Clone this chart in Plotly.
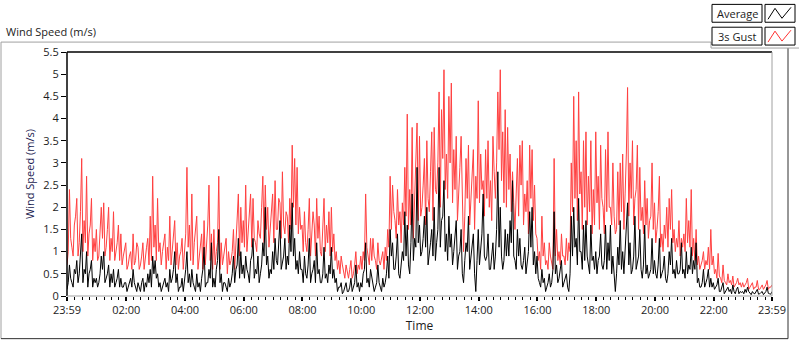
import plotly.graph_objects as go
import pandas as pd

# ---------------- data ----------------
# values on each 5-minute mark (23:59 ... 23:59)
gust_5min = [
    0.7, 2.4, 1.1, 1.6, 2.2, 1.2, 3.1, 1.7, 2.7, 1.4, 2.2, 1.3,
    1.5, 0.9, 2.0, 2.1, 1.1, 2.0, 1.3, 1.9, 1.0, 1.6, 1.4, 0.9,
    1.2, 0.7, 1.0, 1.4, 0.8, 1.1, 0.7, 1.2, 0.9, 1.3, 1.8, 2.7,
    1.6, 2.2, 1.2, 1.0, 1.4, 1.1, 1.8, 1.0, 1.7, 1.2, 0.9, 1.3,
    1.0, 2.9, 1.6, 2.3, 1.2, 1.8, 0.9, 1.4, 1.7, 1.1, 2.5, 1.4,
    1.5, 1.0, 2.7, 1.2, 0.9, 1.3, 1.0, 0.8, 1.5, 1.1, 2.3, 2.0,
    1.7, 2.5, 1.4, 2.3, 2.2, 1.2, 1.7, 1.3, 2.7, 2.5, 2.0, 1.5,
    2.3, 2.6, 1.5, 2.1, 2.8, 1.4, 1.8, 2.2, 3.4, 3.1, 2.9, 2.0,
    1.6, 1.9, 1.0, 2.2, 1.3, 1.6, 2.2, 1.8, 0.9, 2.2, 1.6, 1.9,
    2.0, 1.4, 1.0, 0.8, 0.9, 0.5, 0.7, 0.4, 0.8, 0.5, 1.0, 0.7,
    0.9, 1.0, 2.3, 0.9, 1.3, 1.3, 0.8, 1.2, 0.7, 1.0, 1.1, 1.5,
    2.7, 2.5, 1.7, 2.4, 1.9, 2.1, 2.9, 4.1, 2.4, 3.8, 2.2, 3.9,
    3.6, 2.0, 3.1, 3.5, 1.9, 3.7, 3.8, 2.3, 4.6, 4.2, 5.1, 3.2,
    4.5, 4.8, 3.3, 3.6, 2.2, 3.6, 1.0, 3.1, 3.4, 2.1, 3.3, 2.7,
    4.4, 3.2, 2.6, 3.3, 3.5, 2.6, 3.6, 2.2, 4.6, 5.1, 3.7, 4.2,
    3.8, 3.2, 2.8, 1.5, 3.1, 3.4, 3.5, 2.3, 2.6, 3.4, 3.3, 2.5,
    1.3, 1.0, 1.8, 1.2, 0.8, 1.2, 0.7, 3.1, 1.5, 1.0, 1.4, 0.9,
    1.3, 1.2, 3.0, 4.5, 3.5, 4.6, 2.8, 3.5, 3.7, 2.7, 3.5, 2.4,
    3.7, 2.7, 3.4, 2.0, 3.3, 3.7, 2.0, 3.0, 1.4, 2.8, 3.0, 3.2,
    2.3, 4.7, 3.0, 3.5, 2.2, 3.4, 2.9, 2.0, 2.6, 2.2, 1.7, 3.0,
    2.1, 1.5, 2.7, 1.4, 1.6, 2.0, 2.2, 2.4, 1.5, 1.3, 1.7, 1.3,
    1.4, 2.2, 1.7, 2.4, 1.3, 1.5, 0.9, 0.7, 1.0, 0.8, 1.1, 1.5,
    0.9, 0.6, 0.96, 0.4, 0.7, 0.3, 0.5, 0.35, 0.45, 0.25, 0.4, 0.3,
    0.3, 0.25, 0.4, 0.2, 0.3, 0.2, 0.35, 0.15, 0.25, 0.2, 0.35, 0.2,
    0.25,
]
# values half-way between the 5-minute marks
gust_mid = [
    1.0, 1.3, 0.9, 1.8, 0.9, 1.9, 1.0, 1.2, 0.9, 1.6, 0.8, 1.0,
    0.8, 1.4, 1.3, 0.9, 1.5, 0.8, 1.0, 0.8, 1.2, 0.8, 0.7, 1.1,
    0.6, 0.9, 0.6, 0.7, 1.2, 0.6, 0.9, 0.6, 1.1, 0.7, 0.8, 1.1,
    0.8, 1.0, 0.7, 1.2, 0.6, 0.8, 0.7, 1.3, 0.7, 0.6, 1.0, 0.6,
    1.4, 1.1, 0.8, 0.7, 1.5, 0.6, 1.1, 0.6, 0.7, 1.6, 0.8, 0.6,
    0.7, 1.2, 0.6, 0.7, 1.1, 0.5, 0.7, 1.0, 0.6, 1.7, 0.9, 1.2,
    1.1, 1.0, 1.9, 1.1, 1.3, 1.0, 1.4, 2.0, 1.2, 1.5, 1.1, 1.9,
    1.2, 1.5, 2.2, 1.3, 1.6, 1.9, 1.2, 1.5, 2.0, 1.6, 1.4, 1.5,
    1.0, 1.2, 1.5, 0.9, 1.9, 0.9, 1.3, 1.0, 1.4, 1.0, 1.2, 0.9,
    1.0, 0.8, 0.6, 0.5, 0.7, 0.4, 0.5, 0.6, 0.4, 0.7, 0.5, 0.6,
    0.6, 0.8, 1.1, 0.7, 0.8, 0.9, 0.6, 0.8, 0.9, 0.6, 0.8, 1.1,
    1.5, 1.9, 1.3, 1.6, 1.2, 1.6, 1.8, 1.5, 1.6, 1.3, 2.6, 1.7,
    1.8, 2.5, 1.6, 2.2, 2.8, 1.7, 2.4, 3.0, 2.0, 3.1, 2.4, 2.2,
    3.0, 2.1, 2.4, 1.7, 2.9, 2.0, 1.8, 2.2, 1.6, 2.6, 1.5, 2.2,
    2.1, 2.4, 1.8, 2.2, 2.0, 1.7, 2.8, 3.0, 3.3, 2.6, 2.1, 2.0,
    2.4, 1.9, 2.1, 2.3, 1.8, 2.5, 1.6, 1.9, 1.4, 2.2, 1.7, 1.4,
    0.8, 0.6, 0.9, 0.7, 0.6, 0.9, 0.6, 0.9, 0.8, 0.7, 0.9, 0.7,
    0.8, 1.0, 1.9, 2.2, 1.7, 2.3, 1.5, 2.0, 1.6, 1.9, 1.4, 1.6,
    2.1, 1.5, 2.2, 1.4, 1.9, 2.0, 1.6, 1.8, 1.5, 1.6, 1.9, 1.5,
    3.2, 1.8, 2.2, 1.6, 2.4, 1.5, 1.7, 1.4, 1.6, 1.3, 1.8, 1.5,
    1.2, 1.9, 1.1, 1.0, 1.3, 1.1, 1.5, 1.2, 1.0, 1.1, 0.9, 1.1,
    1.0, 1.2, 1.1, 0.9, 0.8, 0.7, 0.6, 0.8, 0.6, 0.7, 0.6, 0.7,
    0.5, 0.4, 0.45, 0.3, 0.35, 0.25, 0.3, 0.25, 0.2, 0.3, 0.25, 0.2,
    0.2, 0.3, 0.15, 0.25, 0.15, 0.2, 0.15, 0.2, 0.15, 0.25, 0.15, 0.2,
]

average_5min = [
    0.15, 0.7, 0.3, 0.6, 0.8, 0.5, 1.4, 0.6, 1.0, 0.5, 0.8, 0.4,
    0.4, 0.3, 0.9, 1.0, 0.4, 0.7, 0.5, 0.6, 0.3, 0.6, 0.4, 0.2,
    0.3, 0.2, 0.4, 0.6, 0.2, 0.3, 0.1, 0.4, 0.3, 0.5, 0.6, 0.9,
    0.8, 0.5, 0.3, 0.2, 0.4, 0.3, 0.6, 0.4, 1.0, 0.5, 0.2, 0.4,
    0.3, 1.0, 0.5, 0.6, 0.2, 0.5, 0.3, 0.4, 1.1, 0.3, 0.6, 1.2,
    0.4, 0.6, 1.5, 0.5, 0.3, 0.2, 0.4, 0.3, 0.9, 0.6, 1.3, 1.0,
    0.7, 0.9, 0.5, 0.8, 1.3, 0.6, 0.9, 0.5, 1.2, 2.0, 0.9, 0.6,
    1.0, 1.3, 0.7, 1.7, 0.8, 1.3, 0.9, 1.6, 2.1, 1.3, 0.8, 1.0,
    0.6, 0.9, 0.4, 1.3, 0.5, 0.8, 1.2, 0.6, 0.3, 1.1, 0.5, 0.7,
    1.1, 0.6, 0.4, 0.2, 0.3, 0.1, 0.3, 0.1, 0.4, 0.2, 0.7, 0.3,
    0.3, 0.5, 1.2, 0.4, 0.6, 0.3, 0.2, 0.7, 0.2, 0.4, 0.3, 0.9,
    1.5, 1.2, 0.6, 1.4, 0.4, 1.0, 1.9, 1.6, 0.5, 2.3, 1.3, 2.9,
    1.6, 1.0, 1.8, 2.0, 0.9, 1.5, 2.0, 1.2, 2.9, 1.7, 2.6, 1.4,
    1.8, 1.4, 1.0, 1.7, 0.9, 1.5, 0.3, 1.2, 1.8, 0.9, 1.4, 0.1,
    1.5, 1.0, 2.3, 0.8, 1.4, 0.6, 1.2, 0.9, 2.8, 2.0, 0.6, 1.5,
    1.4, 1.7, 2.6, 0.8, 1.5, 1.3, 0.6, 1.1, 0.7, 1.9, 2.0, 1.0,
    0.9, 0.3, 0.6, 0.4, 0.2, 0.5, 0.3, 1.9, 0.7, 0.4, 0.8, 0.3,
    0.5, 0.1, 1.8, 2.0, 1.3, 2.2, 1.0, 1.6, 1.7, 0.7, 1.6, 0.9,
    1.0, 0.8, 1.4, 0.6, 1.6, 1.2, 1.6, 0.9, 0.1, 1.1, 1.7, 1.0,
    1.0, 2.1, 1.2, 0.6, 1.8, 0.8, 1.5, 0.4, 1.6, 0.7, 0.5, 1.3,
    0.8, 0.4, 1.3, 0.5, 0.9, 0.3, 1.0, 1.3, 0.6, 0.8, 0.5, 1.2,
    0.6, 1.0, 0.7, 1.1, 0.8, 1.2, 0.4, 0.2, 0.6, 0.3, 0.6, 0.4,
    0.3, 0.2, 0.4, 0.1, 0.3, 0.1, 0.2, 0.15, 0.25, 0.05, 0.2, 0.1,
    0.1, 0.15, 0.2, 0.05, 0.1, 0.05, 0.15, 0.05, 0.1, 0.08, 0.2, 0.05,
    0.1,
]
average_mid = [
    0.3, 0.4, 0.2, 0.5, 0.3, 0.9, 0.3, 0.5, 0.2, 0.6, 0.2, 0.3,
    0.2, 0.5, 0.6, 0.3, 0.5, 0.2, 0.3, 0.2, 0.4, 0.2, 0.2, 0.3,
    0.1, 0.3, 0.2, 0.3, 0.1, 0.2, 0.3, 0.1, 0.2, 0.3, 0.2, 0.5,
    0.4, 0.2, 0.1, 0.3, 0.2, 0.1, 0.3, 0.6, 0.3, 0.1, 0.2, 0.1,
    0.6, 0.3, 0.2, 0.3, 0.1, 0.2, 0.1, 0.6, 0.2, 0.3, 0.4, 0.2,
    0.2, 0.8, 0.3, 0.1, 0.3, 0.1, 0.2, 0.5, 0.3, 0.7, 0.4, 0.5,
    0.4, 0.6, 0.3, 0.9, 0.4, 0.5, 0.3, 0.7, 0.9, 0.7, 0.4, 0.5,
    0.6, 0.8, 1.1, 0.6, 0.9, 0.6, 0.7, 1.0, 0.9, 0.6, 0.5, 0.6,
    0.3, 0.5, 0.7, 0.3, 0.6, 0.3, 0.5, 0.3, 0.5, 0.4, 0.3, 0.5,
    0.4, 0.3, 0.1, 0.2, 0.05, 0.2, 0.1, 0.2, 0.1, 0.3, 0.2, 0.1,
    0.2, 0.6, 0.3, 0.2, 0.4, 0.1, 0.3, 0.3, 0.1, 0.2, 0.5, 0.4,
    0.9, 0.6, 0.9, 0.5, 0.7, 0.8, 0.9, 0.7, 1.2, 0.8, 1.1, 1.2,
    0.9, 1.3, 1.1, 0.7, 1.2, 0.9, 0.8, 1.5, 1.1, 1.8, 1.0, 0.8,
    1.1, 0.7, 1.3, 0.6, 1.0, 0.5, 0.8, 1.0, 0.6, 1.1, 0.5, 0.8,
    0.7, 1.4, 0.9, 0.9, 0.6, 1.0, 0.6, 1.5, 1.1, 0.9, 0.8, 0.9,
    0.9, 1.2, 0.9, 0.6, 0.9, 0.7, 0.8, 0.5, 1.0, 1.1, 0.7, 0.5,
    0.4, 0.2, 0.3, 0.1, 0.3, 0.2, 0.6, 0.5, 0.3, 0.6, 0.2, 0.4,
    0.2, 0.5, 0.9, 1.1, 0.7, 1.0, 0.6, 0.8, 0.9, 0.5, 0.8, 0.6,
    0.5, 0.9, 0.7, 0.8, 0.6, 0.8, 0.5, 0.4, 0.5, 0.7, 0.6, 0.5,
    1.4, 0.7, 0.5, 0.9, 0.6, 0.9, 0.6, 0.7, 0.5, 0.4, 0.6, 0.5,
    0.5, 0.7, 0.4, 0.6, 0.4, 0.5, 0.7, 0.5, 0.4, 0.5, 0.6, 0.5,
    0.4, 0.5, 0.6, 0.5, 0.6, 0.3, 0.2, 0.3, 0.2, 0.4, 0.2, 0.2,
    0.15, 0.25, 0.1, 0.2, 0.05, 0.15, 0.1, 0.05, 0.1, 0.15, 0.05, 0.08,
    0.05, 0.08, 0.1, 0.03, 0.06, 0.1, 0.04, 0.08, 0.03, 0.1, 0.06, 0.04,
]

start_time = "2021-06-01 23:59"
sample_step = "150s"   # 2.5 minutes between consecutive readings
tick_times = ["2021-06-01 23:59", "2021-06-02 02:00", "2021-06-02 04:00",
              "2021-06-02 06:00", "2021-06-02 08:00", "2021-06-02 10:00",
              "2021-06-02 12:00", "2021-06-02 14:00", "2021-06-02 16:00",
              "2021-06-02 18:00", "2021-06-02 20:00", "2021-06-02 22:00",
              "2021-06-02 23:59"]
tick_labels = ["23:59", "02:00", "04:00", "06:00", "08:00", "10:00", "12:00",
               "14:00", "16:00", "18:00", "20:00", "22:00", "23:59"]
y_ticks = [0, 0.5, 1, 1.5, 2, 2.5, 3, 3.5, 4, 4.5, 5, 5.5]
y_labels = ["0", "0.5", "1", "1.5", "2", "2.5", "3", "3.5", "4", "4.5", "5", "5.5"]


def merge(marks, mids):
    out = []
    for k, v in enumerate(marks):
        out.append(v)
        if k < len(mids):
            out.append(mids[k])
    return out


gust = merge(gust_5min, gust_mid)
average = merge(average_5min, average_mid)
times = pd.date_range(start_time, periods=len(gust), freq=sample_step)

# ---------------- layout geometry ----------------
W, H = 800, 342
L, R, T, B = 67, 28, 52, 44
PW, PH = W - L - R, H - T - B
FONT = "Open Sans"
TXT = "#1c1c1c"


def px(x):
    return (x - L) / PW


def py(y):
    return (H - B - y) / PH


fig = go.Figure()
fig.add_trace(go.Scatter(x=times, y=gust, mode="lines", name="3s Gust",
                         line=dict(color="#ff4040", width=1)))
fig.add_trace(go.Scatter(x=times, y=average, mode="lines", name="Average",
                         line=dict(color="#000000", width=1)))

shapes = []


def seg(x0, y0, x1, y1, color, w=1):
    shapes.append(dict(type="line", xref="paper", yref="paper",
                       x0=px(x0), y0=py(y0), x1=px(x1), y1=py(y1),
                       line=dict(color=color, width=w), layer="above"))


# outer frame
seg(1, 42, 711, 42, "#a0a0a0")
seg(1, 42, 1, 341, "#a0a0a0")
seg(1, 341, 788, 341, "#303030")
seg(788, 48, 788, 341, "#303030")
# legend container
seg(711, 42, 711, 48, "#a0a0a0")
seg(711, 48, 799, 48, "#a0a0a0")
# plot area frame
seg(67, 52, 772, 52, "#000000", 1.5)
seg(67, 52, 67, 298, "#000000", 1.5)
seg(772, 52, 772, 298, "#a0a0a0")
seg(67, 298, 772, 298, "#a0a0a0")

# legend boxes
for (yt, yb, col) in [(4, 22, "#000000"), (27, 45, "#ff3030")]:
    shapes.append(dict(type="rect", xref="paper", yref="paper",
                       x0=px(712), x1=px(762), y0=py(yb), y1=py(yt),
                       line=dict(color="#000000", width=1), fillcolor="white"))
    shapes.append(dict(type="rect", xref="paper", yref="paper",
                       x0=px(765), x1=px(795), y0=py(yb), y1=py(yt),
                       line=dict(color="#000000", width=1), fillcolor="white"))
    pts = [(768, yb - 3), (775, yt + 4), (782, yb - 4), (791, yt + 3)]
    path = "M " + " L ".join(f"{px(a):.5f},{py(b):.5f}" for a, b in pts)
    shapes.append(dict(type="path", xref="paper", yref="paper", path=path,
                       line=dict(color=col, width=1)))

annotations = [
    dict(text="Average", x=px(737), y=py(13), xref="paper", yref="paper",
         xanchor="center", yanchor="middle",
         showarrow=False, font=dict(family=FONT, size=11, color=TXT)),
    dict(text="3s Gust", x=px(737), y=py(36), xref="paper", yref="paper",
         xanchor="center", yanchor="middle",
         showarrow=False, font=dict(family=FONT, size=11, color=TXT)),
    dict(text="Wind Speed (m/s)", x=px(4), y=py(31), xref="paper", yref="paper",
         xanchor="left", yanchor="middle",
         showarrow=False, font=dict(family=FONT, size=11, color=TXT)),
]

fig.update_layout(
    width=W, height=H,
    margin=dict(l=L, r=R, t=T, b=B, pad=0),
    paper_bgcolor="white", plot_bgcolor="white",
    showlegend=False,
    font=dict(family=FONT, size=11, color=TXT),
    shapes=shapes, annotations=annotations,
    xaxis=dict(
        range=[times[0], times[-1]], type="date",
        tickvals=tick_times, ticktext=tick_labels,
        ticks="outside", ticklen=4, tickwidth=2, tickcolor="#000000",
        showgrid=False, zeroline=False, showline=False,
        minor=dict(dtick=15 * 60 * 1000, tick0="2021-06-02 00:00",
                   ticks="outside", ticklen=3, tickwidth=1, tickcolor="#000000",
                   showgrid=False),
        title=dict(text="Time", standoff=4, font=dict(family=FONT, size=12, color=TXT)),
        tickfont=dict(family=FONT, size=11, color=TXT),
    ),
    yaxis=dict(
        range=[0, 5.5], tickvals=y_ticks, ticktext=y_labels,
        ticks="outside", ticklen=5, tickwidth=1, tickcolor="#000000",
        showgrid=False, zeroline=False, showline=False,
        title=dict(text="Wind Speed (m/s)", standoff=6,
                   font=dict(family=FONT, size=11, color="#1a1a50")),
        tickfont=dict(family=FONT, size=11, color=TXT),
    ),
)

fig.write_html("out.html", config={"displayModeBar": False},
               post_script="document.body.style.margin='0';document.body.style.overflow='hidden';")
